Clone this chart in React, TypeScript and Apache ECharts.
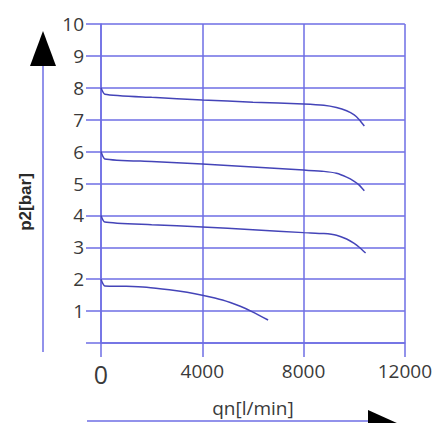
import React, { useEffect, useRef } from "react";
import * as echarts from "echarts";

const xTicks = [0, 4000, 8000, 12000];
const yTickLabels = ["1", "2", "3", "4", "5", "6", "7", "8", "9", "10"];

const flow8 = [0, 150, 2000, 4000, 6000, 8000, 8800, 9300, 9700, 10000, 10200, 10400];
const p8 = [8.0, 7.8, 7.7, 7.62, 7.55, 7.49, 7.45, 7.38, 7.28, 7.15, 7.0, 6.8];

const flow6 = [0, 150, 2000, 4000, 6000, 8000, 8800, 9300, 9700, 10000, 10200, 10400];
const p6 = [6.0, 5.77, 5.69, 5.61, 5.52, 5.42, 5.38, 5.32, 5.2, 5.07, 4.95, 4.77];

const flow4 = [0, 150, 2000, 4000, 6000, 8000, 8800, 9300, 9700, 10000, 10200, 10450];
const p4 = [4.0, 3.79, 3.71, 3.64, 3.55, 3.46, 3.43, 3.38, 3.26, 3.12, 3.0, 2.82];

const flow2 = [0, 150, 1000, 1800, 2700, 3400, 4000, 4800, 5500, 6000, 6600];
const p2 = [2.0, 1.79, 1.78, 1.75, 1.67, 1.59, 1.5, 1.35, 1.15, 0.97, 0.72];

const GRID = "#6e6ee4";
const CURVE = "#4444b8";
const TEXT = "#3a3a3a";
const FONT = "Open Sans";

const pairs = (xs: number[], ys: number[]) => xs.map((x, i) => [x, ys[i]]);

export default function App() {
  const ref = useRef<HTMLDivElement>(null);
  useEffect(() => {
    if (!ref.current) return;
    const chart = echarts.init(ref.current, undefined, { renderer: "svg" });
    const curves = [
      pairs(flow8, p8),
      pairs(flow6, p6),
      pairs(flow4, p4),
      pairs(flow2, p2),
    ];
    chart.setOption({
      animation: false,
      backgroundColor: "#ffffff",
      grid: { left: 101, right: 30, top: 24, bottom: 80, containLabel: false },
      xAxis: {
        type: "value",
        min: xTicks[0],
        max: xTicks[xTicks.length - 1],
        interval: 4000,
        name: "qn[l/min]",
        nameLocation: "middle",
        nameGap: 55,
        nameTextStyle: { fontFamily: FONT, fontSize: 19, color: TEXT },
        axisLine: { show: true, lineStyle: { color: GRID, width: 1.5 } },
        axisTick: { show: true, length: 14, lineStyle: { color: GRID, width: 1.5 } },
        axisLabel: {
          margin: 18,
          fontFamily: FONT,
          fontSize: 19,
          color: TEXT,
          formatter: (v: number) => (v === 0 ? "{big|0}" : String(v)),
          rich: { big: { fontFamily: FONT, fontSize: 25, color: TEXT } },
        },
        splitLine: { show: true, lineStyle: { color: GRID, width: 1.5 } },
      },
      yAxis: {
        type: "value",
        min: 0,
        max: 10,
        interval: 1,
        axisLine: { show: true, lineStyle: { color: GRID, width: 1.5 } },
        axisTick: { show: true, length: 15, lineStyle: { color: GRID, width: 1.5 } },
        axisLabel: {
          margin: 17,
          fontFamily: FONT,
          fontSize: 19,
          color: TEXT,
          formatter: (v: number) => (v === 0 ? "" : yTickLabels[v - 1] ?? ""),
        },
        splitLine: { show: true, lineStyle: { color: GRID, width: 1.5 } },
      },
      series: curves.map((d) => ({
        type: "line",
        data: d,
        showSymbol: false,
        smooth: 0.2,
        lineStyle: { color: CURVE, width: 1.5 },
      })),
      graphic: [
        {
          type: "line",
          shape: { x1: 43, y1: 64, x2: 43, y2: 352 },
          style: { stroke: GRID, lineWidth: 1.5 },
        },
        {
          type: "polygon",
          shape: { points: [[43, 31], [30, 66], [56, 66]] },
          style: { fill: "#000" },
        },
        {
          type: "line",
          shape: { x1: 87, y1: 421, x2: 372, y2: 421 },
          style: { stroke: GRID, lineWidth: 1.5 },
        },
        {
          type: "polygon",
          shape: { points: [[368, 410], [368, 446], [408, 428]] },
          style: { fill: "#000" },
        },
        {
          type: "text",
          x: 25,
          y: 202,
          rotation: Math.PI / 2,
          style: {
            text: "p2[bar]",
            fontFamily: "Liberation Sans",
            fontWeight: "bold",
            fontSize: 17,
            fill: "#2a2a2a",
            align: "center",
            verticalAlign: "middle",
          },
        },
      ],
    });
    return () => chart.dispose();
  }, []);
  return (
    <div
      ref={ref}
      style={{ position: "fixed", left: 0, top: 0, width: 435, height: 423 }}
    />
  );
}
